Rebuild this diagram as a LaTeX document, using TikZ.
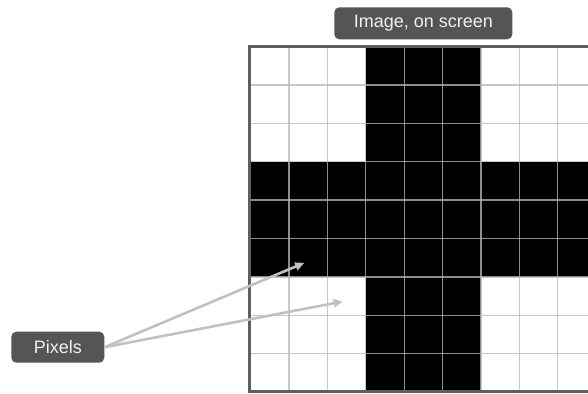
\documentclass[tikz,border=0pt]{standalone}
\usepackage{fontspec}
\setmainfont{Liberation Sans}
\usetikzlibrary{arrows.meta}
\definecolor{boxgray}{RGB}{85,85,85}
\definecolor{boxtext}{RGB}{240,240,240}
\definecolor{gridline}{RGB}{183,183,180}
\definecolor{bordergray}{RGB}{95,95,95}
\definecolor{arrowgray}{RGB}{192,195,188}
\tikzset{
  labelbox/.style={fill=boxgray, text=boxtext, rounded corners=5pt, inner sep=0pt,
    font=\fontsize{18}{20}\selectfont},
  gridstroke/.style={draw=gridline, draw opacity=0.77, line width=1.3pt},
  framestroke/.style={draw=bordergray, line width=3pt},
  pointer/.style={draw=arrowgray, line width=2.6pt,
    -{Triangle[length=9pt,width=8pt]}, shorten >=-1pt},
}
\begin{document}
\begin{tikzpicture}[x=1pt,y=-1pt]
\useasboundingbox (0,0) rectangle (588,393);
\clip (0,0) rectangle (588,393);
% black pixels
\fill[black] (365.8,46.5) rectangle (481,393);
\fill[black] (249.5,161.7) rectangle (600,276.9);
% grid lines
\foreach \gx in {289,327.4,365.8,404.2,442.6,481,519.4,557.8}
  \draw[gridstroke] (\gx,46.5) -- (\gx,393);
\foreach \gy in {84.9,123.3,161.7,200.1,238.5,276.9,315.3,353.7}
  \draw[gridstroke] (249.5,\gy) -- (600,\gy);
% frame
\draw[framestroke] (600,46.7) -- (249.5,46.7) -- (249.5,391.6) -- (600,391.6);
% labels
\node[labelbox, minimum width=178pt, minimum height=32pt] (img) at (423.3,23.3) {Image, on screen};
\node[labelbox, minimum width=93pt, minimum height=31pt] (pix) at (57.8,347.2) {Pixels};
% arrow targets
\coordinate (t1) at (303.3,263.3);
\coordinate (t2) at (341.7,301.7);
\draw[pointer] (pix.east) -- (t1);
\draw[pointer] (pix.east) -- (t2);
\end{tikzpicture}
\end{document}
